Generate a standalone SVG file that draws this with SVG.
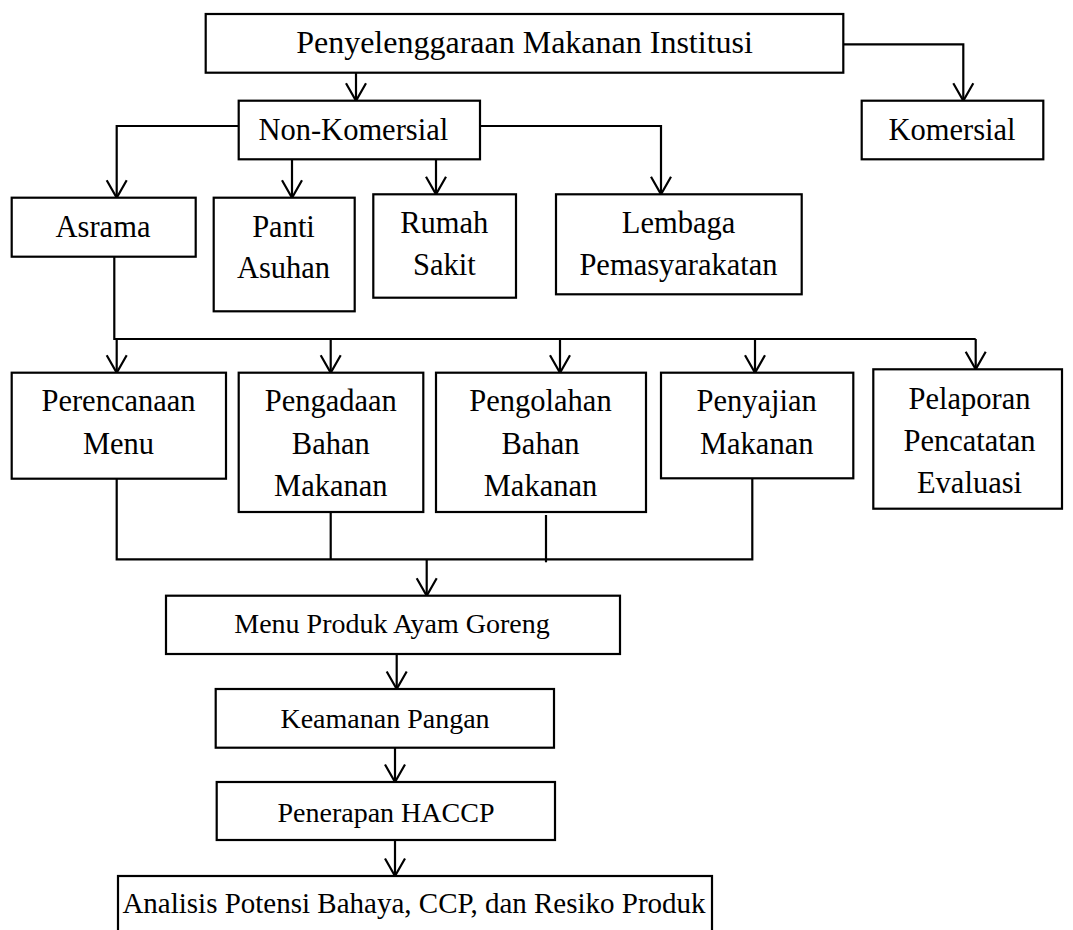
<svg xmlns="http://www.w3.org/2000/svg" width="1073" height="930" viewBox="0 0 1073 930">
<defs>
<marker id="arr" viewBox="-19 -12 21 24" markerUnits="userSpaceOnUse" markerWidth="21" markerHeight="24" refX="0" refY="0" orient="auto">
<path d="M-17.5,-10 L0,0 L-17.5,10" fill="none" stroke="#000" stroke-width="2.2"/>
</marker>
</defs>
<style>
.box{fill:#fff;stroke:#000;stroke-width:2.2}
.t{font-family:"Liberation Serif","Times New Roman",serif;font-size:30.5px;fill:#000;text-anchor:middle}
.big{font-size:32px}
.sm{font-size:28px}
.an{font-size:29px}
.c{fill:none;stroke:#000;stroke-width:2.2}
.a{fill:none;stroke:#000;stroke-width:2.2;marker-end:url(#arr)}
</style>
<rect width="1073" height="930" fill="#fff"/>
<g id="connectors">
<path class="a" d="M356,72.7 V100.7"/>
<path class="a" d="M843.3,44.3 H963.3 V100.7"/>
<path class="a" d="M238.7,126 H116.7 V197.7"/>
<path class="a" d="M292,159.3 V197.7"/>
<path class="a" d="M436,159.3 V194.3"/>
<path class="a" d="M480,126 H661 V194.3"/>
<path class="c" d="M114.3,256.7 V339 H975.7"/>
<path class="a" d="M116.7,339 V372.7"/>
<path class="a" d="M330.7,339 V372.7"/>
<path class="a" d="M560,339 V372.7"/>
<path class="a" d="M755,339 V372.7"/>
<path class="a" d="M975.7,339 V369.3"/>
<path class="c" d="M116.7,478.7 V559.3 H752.3 V478.3"/>
<path class="c" d="M330.7,512 V559.3"/>
<path class="c" d="M546,515 V562.3"/>
<path class="a" d="M426.7,559.3 V595.7"/>
<path class="a" d="M396.7,654 V689"/>
<path class="a" d="M395,747.7 V782"/>
<path class="a" d="M395,840 V876"/>
</g>
<g id="n-institusi">
<rect class="box" x="205.7" y="14" width="637.6" height="58.7"/>
<text class="t big" x="524.5" y="53.3">Penyelenggaraan Makanan Institusi</text>
</g>
<g id="n-nonkomersial">
<rect class="box" x="238.7" y="100.7" width="241.3" height="58.6"/>
<text class="t" x="353.3" y="140">Non-Komersial</text>
</g>
<g id="n-komersial">
<rect class="box" x="861.7" y="100.7" width="181.6" height="58.6"/>
<text class="t" x="952" y="140">Komersial</text>
</g>
<g id="n-asrama">
<rect class="box" x="11.7" y="197.7" width="184" height="59"/>
<text class="t" x="103" y="237.3">Asrama</text>
</g>
<g id="n-panti">
<rect class="box" x="213.7" y="197.7" width="141" height="113.6"/>
<text class="t" x="283.5" y="237.3">Panti</text>
<text class="t" x="283.5" y="278.3">Asuhan</text>
</g>
<g id="n-rumahsakit">
<rect class="box" x="373.3" y="194.3" width="142.7" height="103.4"/>
<text class="t" x="444.3" y="233.3">Rumah</text>
<text class="t" x="444.3" y="275">Sakit</text>
</g>
<g id="n-lembaga">
<rect class="box" x="556" y="194.3" width="245.7" height="100"/>
<text class="t" x="678.5" y="233.3">Lembaga</text>
<text class="t" x="678.5" y="275">Pemasyarakatan</text>
</g>
<g id="n-perencanaan">
<rect class="box" x="11.7" y="372.7" width="214.3" height="106"/>
<text class="t" x="118.5" y="410.7">Perencanaan</text>
<text class="t" x="118.5" y="454">Menu</text>
</g>
<g id="n-pengadaan">
<rect class="box" x="238.7" y="372.7" width="184.6" height="139.3"/>
<text class="t" x="330.8" y="410.7">Pengadaan</text>
<text class="t" x="330.8" y="454">Bahan</text>
<text class="t" x="330.8" y="495.7">Makanan</text>
</g>
<g id="n-pengolahan">
<rect class="box" x="436" y="372.7" width="210" height="139.3"/>
<text class="t" x="540.5" y="410.7">Pengolahan</text>
<text class="t" x="540.5" y="454">Bahan</text>
<text class="t" x="540.5" y="495.7">Makanan</text>
</g>
<g id="n-penyajian">
<rect class="box" x="661" y="372.7" width="192.3" height="105.6"/>
<text class="t" x="756.7" y="410.7">Penyajian</text>
<text class="t" x="756.7" y="454">Makanan</text>
</g>
<g id="n-pelaporan">
<rect class="box" x="873.3" y="369.3" width="188.7" height="139.4"/>
<text class="t" x="969.5" y="409">Pelaporan</text>
<text class="t" x="969.5" y="450.5">Pencatatan</text>
<text class="t" x="969.5" y="493.3">Evaluasi</text>
</g>
<g id="n-menuproduk">
<rect class="box" x="166" y="595.7" width="454" height="58.3"/>
<text class="t sm" x="392" y="633.3">Menu Produk Ayam Goreng</text>
</g>
<g id="n-keamanan">
<rect class="box" x="215.7" y="689" width="338.3" height="58.7"/>
<text class="t sm" x="385" y="728.3">Keamanan Pangan</text>
</g>
<g id="n-haccp">
<rect class="box" x="216.7" y="782" width="338.3" height="58"/>
<text class="t sm" x="386" y="821.7">Penerapan HACCP</text>
</g>
<g id="n-analisis">
<rect class="box" x="118" y="876" width="594" height="70"/>
<text class="t an" x="414" y="913.3">Analisis Potensi Bahaya, CCP, dan Resiko Produk</text>
</g>
</svg>
